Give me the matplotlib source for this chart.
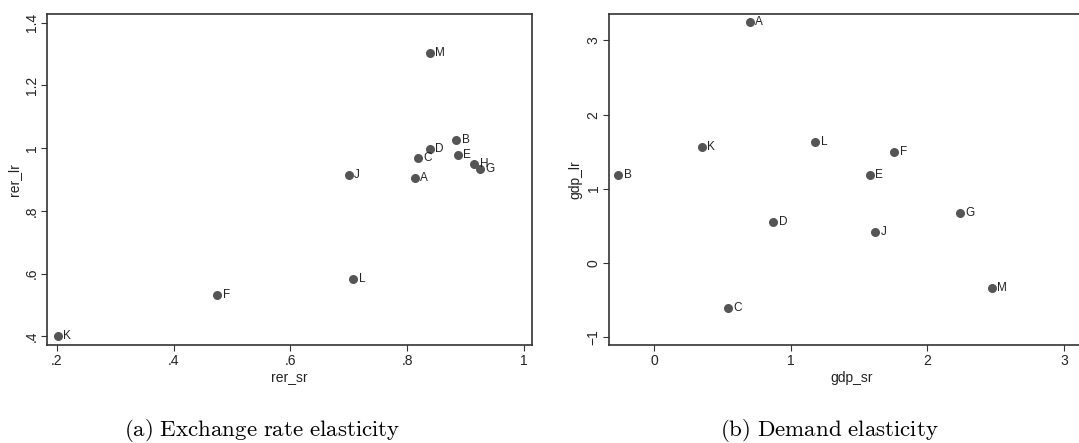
import matplotlib
matplotlib.use('Agg')
import matplotlib.pyplot as plt

# Panel (a): exchange rate elasticity
rer_names = ['A', 'B', 'C', 'D', 'E', 'F', 'G', 'H', 'J', 'K', 'L', 'M']
rer_sr = [0.813, 0.884, 0.819, 0.839, 0.887, 0.475, 0.924, 0.915, 0.700, 0.201, 0.708, 0.839]
rer_lr = [0.905, 1.026, 0.969, 0.996, 0.977, 0.533, 0.935, 0.948, 0.913, 0.400, 0.584, 1.303]

# Panel (b): demand elasticity
gdp_names = ['A', 'B', 'C', 'D', 'E', 'F', 'G', 'H', 'J', 'K', 'L', 'M']
gdp_sr = [0.699, -0.263, 0.537, 0.873, 1.577, 1.757, 2.239, 3.14, 1.618, 0.347, 1.178, 2.471]
gdp_lr = [3.244, 1.182, -0.607, 0.553, 1.182, 1.501, 0.678, 0.96, 0.409, 1.564, 1.626, -0.347]

rer_xticks = [0.2, 0.4, 0.6, 0.8, 1.0]
rer_xlabels = ['.2', '.4', '.6', '.8', '1']
rer_yticks = [0.4, 0.6, 0.8, 1.0, 1.2, 1.4]
rer_ylabels = ['.4', '.6', '.8', '1', '1.2', '1.4']
gdp_xticks = [0, 1, 2, 3]
gdp_xlabels = ['0', '1', '2', '3']
gdp_yticks = [-1, 0, 1, 2, 3]
gdp_ylabels = ['\u22121', '0', '1', '2', '3']

plt.rcParams['font.family'] = ['Liberation Sans', 'DejaVu Sans']
plt.rcParams['mathtext.fontset'] = 'cm'

fig = plt.figure(figsize=(10.79, 4.43), dpi=100)
ax1 = fig.add_axes([0.0436, 0.2201, 0.4495, 0.7494])
ax2 = fig.add_axes([0.5644, 0.2201, 0.4495, 0.7494])

dot = '#555555'
edge = '#333333'


def panel(ax, x, y, names, xl, yl, xt, xtl, yt, ytl, xlim, ylim):
    ax.scatter(x, y, s=30, color=dot, zorder=3, clip_on=False)
    for xi, yi, n in zip(x, y, names):
        ax.annotate(n, (xi, yi), xytext=(4, 0), textcoords='offset points',
                    va='center', ha='left', fontsize=8.5, color='#222222')
    ax.set_xlim(*xlim)
    ax.set_ylim(*ylim)
    ax.set_xticks(xt)
    ax.set_xticklabels(xtl)
    ax.set_yticks(yt)
    ax.set_yticklabels(ytl, rotation=90, va='center')
    ax.tick_params(direction='out', length=4, width=0.8, labelsize=10,
                   color=edge, labelcolor='#222222', pad=2)
    ax.set_xlabel(xl, fontsize=10, color='#222222', labelpad=2)
    ax.set_ylabel(yl, fontsize=10, color='#222222', labelpad=3)
    for s in ax.spines.values():
        s.set_color(edge)
        s.set_linewidth(1.2)


panel(ax1, rer_sr, rer_lr, rer_names, 'rer_sr', 'rer_lr',
      rer_xticks, rer_xlabels, rer_yticks, rer_ylabels,
      (0.183, 1.014), (0.371, 1.429))
panel(ax2, gdp_sr, gdp_lr, gdp_names, 'gdp_sr', 'gdp_lr',
      gdp_xticks, gdp_xlabels, gdp_yticks, gdp_ylabels,
      (-0.33, 3.218), (-1.117, 3.364))

fig.text(262 / 1079, 1 - 431 / 443, r'$\mathrm{(a)\ Exchange\ rate\ elasticity}$',
         ha='center', va='center', fontsize=16.5)
fig.text(829 / 1079, 1 - 431 / 443, r'$\mathrm{(b)\ Demand\ elasticity}$',
         ha='center', va='center', fontsize=16.5)

fig.savefig('out.png', dpi=100)
